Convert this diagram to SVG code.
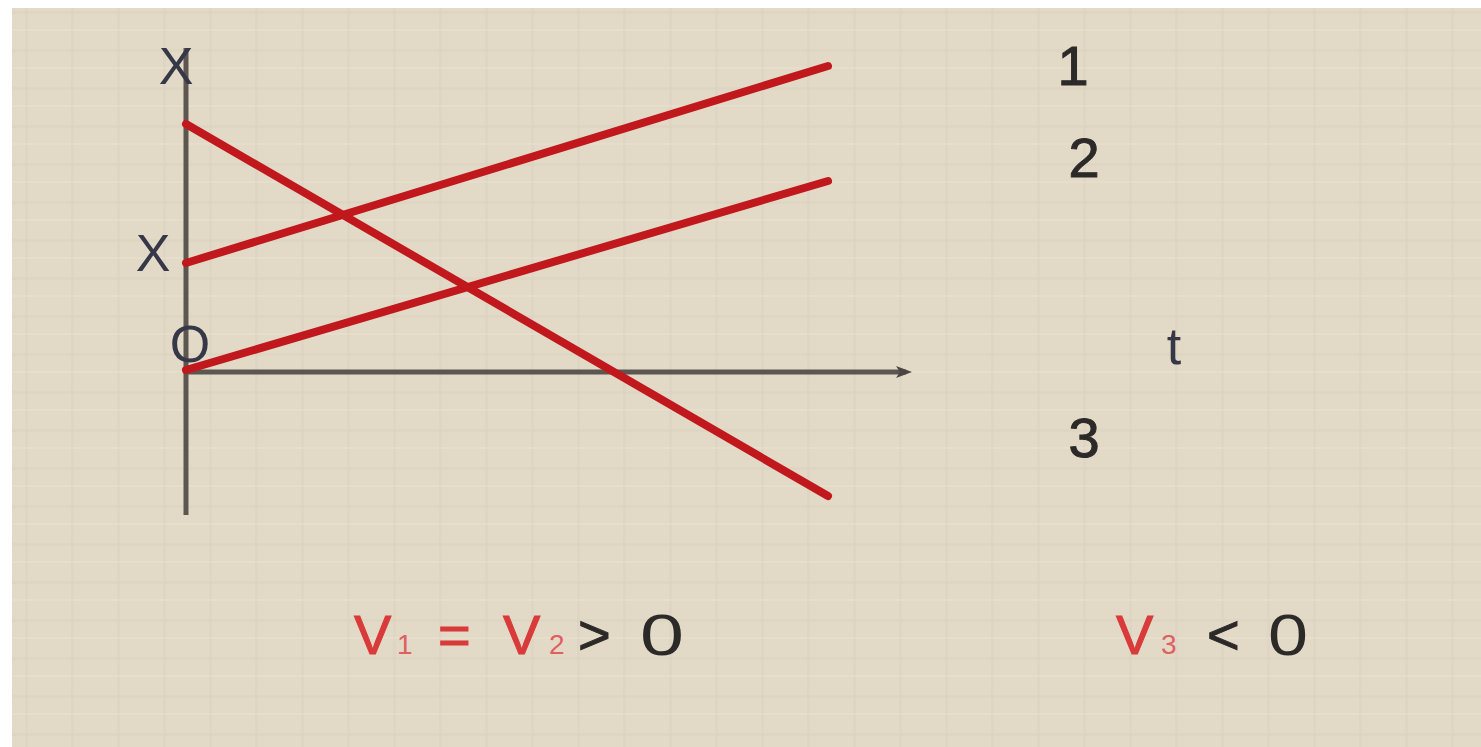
<svg xmlns="http://www.w3.org/2000/svg" width="1481" height="747" viewBox="0 0 1481 747">
<defs>
<pattern id="tex" width="46" height="38" patternUnits="userSpaceOnUse">
<rect width="46" height="38" fill="#e2d9c7"/>
<rect x="0" y="11" width="46" height="3" fill="#d9d0bf" opacity="0.45"/>
<rect x="25" y="0" width="3" height="38" fill="#d8cfbe" opacity="0.35"/>
<rect x="0" y="29" width="46" height="2" fill="#e9e2d3" opacity="0.5"/>
</pattern>
<marker id="arr" markerWidth="16" markerHeight="12" refX="10" refY="6" orient="auto" markerUnits="userSpaceOnUse" viewBox="0 0 16 12">
<path d="M0,0 L16,6 L0,12 L4,6 Z" fill="#4a4540"/>
</marker>
<style>
.axis{stroke:#5c5650;stroke-width:5;fill:none}
.red{stroke:#c0181c;stroke-width:8;stroke-linecap:round;fill:none}
.lbl{font-family:"Liberation Sans",Arial,sans-serif;font-size:56px;fill:#2c2a28;stroke:#2c2a28;stroke-width:1}
.zero{stroke:none;font-size:58px}
.ax{font-family:"Liberation Sans",Arial,sans-serif;font-size:52px;fill:#363848}
.v{fill:#d93a3a;stroke:#d93a3a}
.sub{font-size:28px;fill:#e06060;stroke:none}
</style>
</defs>
<rect width="1481" height="747" fill="#ffffff"/>
<rect x="12" y="8" width="1469" height="739" fill="url(#tex)"/>
<g id="axes">
<line class="axis" x1="186" y1="48" x2="186" y2="515"/>
<line class="axis" x1="186" y1="372" x2="906" y2="372" marker-end="url(#arr)"/>
</g>
<g id="connectors">
<line id="line1" class="red" x1="186" y1="263" x2="828" y2="66"/>
<line id="line2" class="red" x1="186" y1="370" x2="828" y2="181"/>
<line id="line3" class="red" x1="186" y1="124" x2="828" y2="496"/>
</g>
<g id="axis-labels">
<text class="ax" x="176" y="84" text-anchor="middle">X</text>
<text class="ax" x="153" y="271" text-anchor="middle">X</text>
<text class="ax" x="190" y="362" text-anchor="middle">O</text>
<text class="ax" x="1174" y="364" text-anchor="middle">t</text>
</g>
<g id="line-labels">
<text class="lbl" x="1073" y="85" text-anchor="middle">1</text>
<text class="lbl" x="1084" y="177" text-anchor="middle">2</text>
<text class="lbl" x="1084" y="457" text-anchor="middle">3</text>
</g>
<g id="eq1">
<text class="lbl" y="654"><tspan class="v" x="354">V</tspan><tspan class="sub" x="397">1</tspan><tspan class="v" x="438">=</tspan><tspan class="v" x="503">V</tspan><tspan class="sub" x="549">2</tspan><tspan x="578">&gt;</tspan></text>
<text class="lbl zero" x="640" y="655" textLength="44" lengthAdjust="spacingAndGlyphs">0</text>
</g>
<g id="eq2">
<text class="lbl" y="654"><tspan class="v" x="1116">V</tspan><tspan class="sub" x="1161">3</tspan><tspan x="1207">&lt;</tspan></text>
<text class="lbl zero" x="1268" y="655" textLength="40" lengthAdjust="spacingAndGlyphs">0</text>
</g>
</svg>
